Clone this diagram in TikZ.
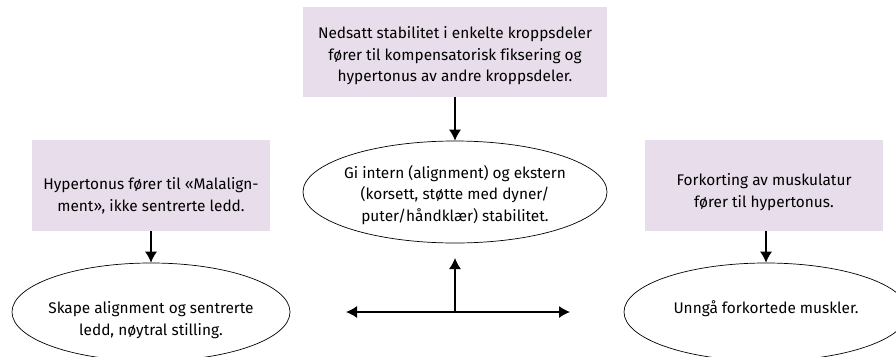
\documentclass[tikz,border=0pt]{standalone}
\usepackage{fontspec}
\setmainfont[Ligatures={NoCommon}]{Fira Sans}
\usetikzlibrary{shapes.geometric,arrows.meta}
\definecolor{boxfill}{RGB}{232,221,234}
\begin{document}
\begin{tikzpicture}[x=1pt,y=-1pt,
  txt/.style={font=\fontsize{15.4}{21.5}\selectfont, align=center},
  pbox/.style={txt, fill=boxfill, draw=none, inner sep=0pt},
  oval/.style={txt, ellipse, draw=black, line width=0.7pt, inner sep=0pt},
  arr/.style={line width=1.2pt, -{Latex[length=11pt,width=12pt]}},
  darr/.style={line width=1.2pt, {Latex[length=11pt,width=12pt]}-{Latex[length=11pt,width=12pt]}}]
\useasboundingbox (0,0) rectangle (896,356);
\clip (0,0) rectangle (896,356);
% boxes
\node[pbox, minimum width=304pt, minimum height=90pt] (top) at (455,52) {};
\node[txt] (ttxt) at (455,56)
  {Nedsatt stabilitet i enkelte kroppsdeler\\ fører til kompensatorisk fiksering og\\ hypertonus av andre kroppsdeler.};
\node[pbox, minimum width=238pt, minimum height=91pt] (lbox) at (151,185.5) {};
\node[txt] (ltxt) at (151,196) {Hypertonus fører til «Malalign-\\ment», ikke sentrerte ledd.};
\node[pbox, minimum width=238pt, minimum height=91pt] (rbox) at (764,185.5) {};
\node[txt] (rtxt) at (764,192) {Forkorting av muskulatur\\fører til hypertonus.};
% ellipses
\node[oval, minimum width=304pt, minimum height=102pt] (cell) at (455,192) {};
\node[txt] (ctxt) at (455,195) {Gi intern (alignment) og ekstern\\(korsett, støtte med dyner/\\puter/håndklær) stabilitet.};
\node[oval, minimum width=278pt, minimum height=98pt] (lell) at (151,312) {};
\node[txt] (letxt) at (151,320) {Skape alignment og sentrerte\\ledd, nøytral stilling.};
\node[oval, minimum width=284pt, minimum height=98pt] (rell) at (766,312) {};
\node[txt] (retxt) at (766,309) {Unngå forkortede muskler.};
% arrows
\draw[arr] (top.south) -- (cell.north);
\draw[arr] (lbox.south) -- (lell.north);
\draw[arr] (rbox.south -| rell.north) -- (rell.north);
\coordinate (hl) at (346,312);
\coordinate (hr) at (570,312);
\coordinate (hm) at (455,312);
\coordinate (hu) at (455,258);
\draw[darr] (hl) -- (hr);
\draw[arr] (hm) -- (hu);
\end{tikzpicture}
\end{document}
